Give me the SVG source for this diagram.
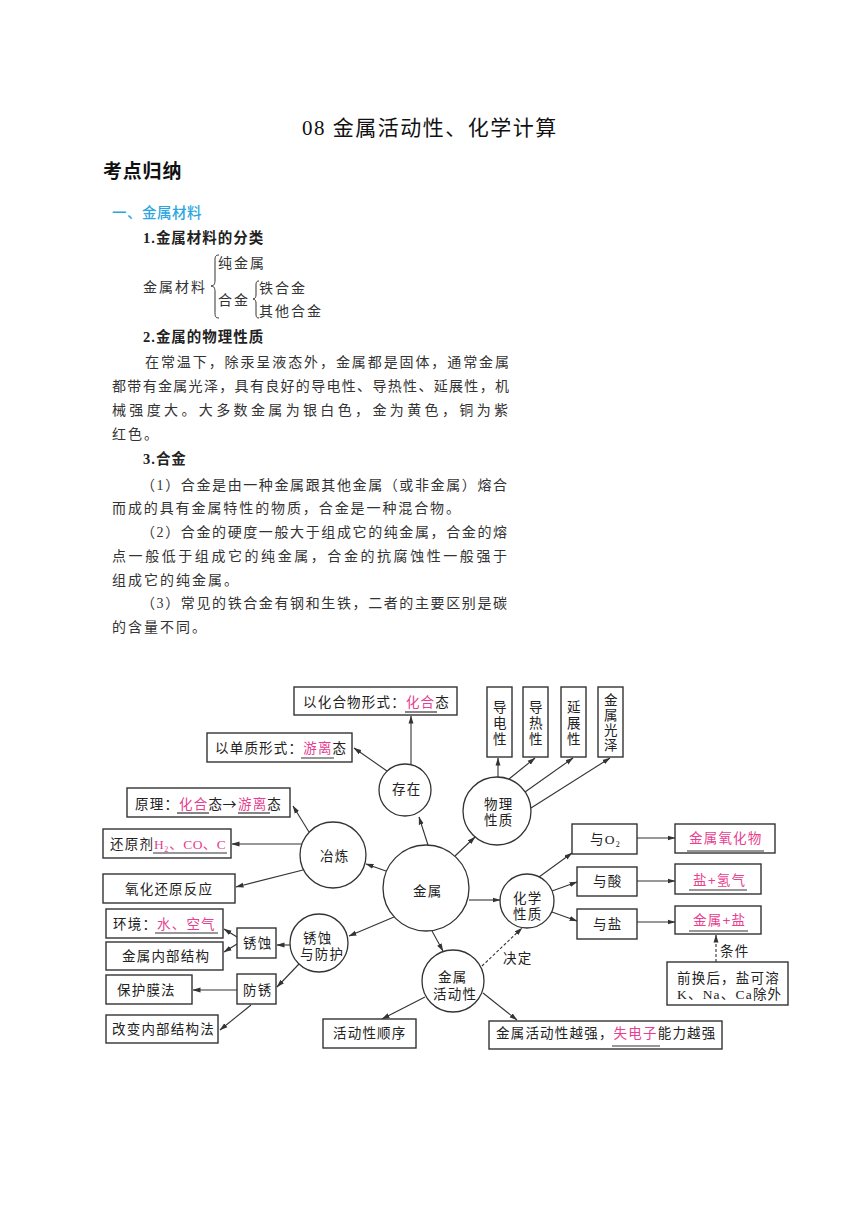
<svg xmlns="http://www.w3.org/2000/svg" width="860" height="1216" viewBox="0 0 860 1216">
<style>
.bg{fill:#fff}
.title{font-family:"Liberation Serif","Noto Sans CJK SC",serif;font-size:21px;letter-spacing:1.5px;fill:#111}
.h1{font-family:"Liberation Sans","Noto Sans CJK SC",sans-serif;font-size:19px;font-weight:bold;letter-spacing:0.8px;fill:#111}
.blue{font-family:"Liberation Sans","Noto Sans CJK SC",sans-serif;font-size:14.5px;font-weight:500;letter-spacing:0.5px;fill:#2ca6e0}
.h2{font-family:"Liberation Serif","Noto Sans CJK SC",serif;font-size:14.5px;font-weight:bold;letter-spacing:1px;fill:#222}
.body{font-family:"Liberation Serif","Noto Sans CJK SC",serif;font-size:14px;letter-spacing:2px;fill:#333}
.brace{fill:none;stroke:#333;stroke-width:1}
.box{fill:#fff;stroke:#333;stroke-width:1.4}
.circ{fill:#fff;stroke:#333;stroke-width:1.3}
.t{font-family:"Liberation Serif","Noto Sans CJK SC",serif;font-size:13.5px;letter-spacing:1.2px;fill:#222}
.pk{fill:#e8408f;font-family:"Liberation Sans","Noto Sans CJK SC",sans-serif}
.pks{fill:#e8408f}
.ul{stroke:#333;stroke-width:1.2}
.c{stroke:#333;stroke-width:1.1;fill:none;marker-end:url(#ah)}
.d{stroke-dasharray:3 2}
</style>
<defs>
<marker id="ah" viewBox="0 0 8 6" refX="7.5" refY="3" markerWidth="8" markerHeight="6" markerUnits="userSpaceOnUse" orient="auto"><path d="M0,0.5 L8,3 L0,5.5 z" fill="#333"/></marker>
</defs>
<rect class="bg" x="0" y="0" width="860" height="1216"/>

<g id="header">
<text class="title" x="302" y="135">08 金属活动性、化学计算</text>
<text class="h1" x="103" y="178">考点归纳</text>
<text class="blue" x="112" y="218">一、金属材料</text>
</g>

<g id="text-body">
<text class="h2" x="143" y="243">1.金属材料的分类</text>
<text class="body" x="218" y="268">纯金属</text>
<text class="body" x="143" y="292">金属材料</text>
<text class="body" x="218" y="305">合金</text>
<text class="body" x="259" y="293">铁合金</text>
<text class="body" x="259" y="316">其他合金</text>
<path class="brace" d="M219,255 C215,255 215,257 215,262 L215,280 C215,284 214,286 211,286 C214,286 215,288 215,292 L215,311 C215,316 215,318 219,318"/>
<path class="brace" d="M259,281 C256,281 256,283 256,286 L256,295 C256,297 255,299 253,299 C255,299 256,301 256,303 L256,313 C256,316 256,318 259,318"/>

<text class="h2" x="143" y="342">2.金属的物理性质</text>
<text class="body" x="145" y="367" textLength="366" lengthAdjust="spacing">在常温下，除汞呈液态外，金属都是固体，通常金属</text>
<text class="body" x="112" y="391" textLength="399" lengthAdjust="spacing">都带有金属光泽，具有良好的导电性、导热性、延展性，机</text>
<text class="body" x="112" y="415" textLength="398" lengthAdjust="spacing">械强度大。大多数金属为银白色，金为黄色，铜为紫</text>
<text class="body" x="112" y="439">红色。</text>
<text class="h2" x="143" y="464">3.合金</text>
<text class="body" x="141" y="490" textLength="368" lengthAdjust="spacing">（1）合金是由一种金属跟其他金属（或非金属）熔合</text>
<text class="body" x="112" y="513" textLength="350" lengthAdjust="spacing">而成的具有金属特性的物质，合金是一种混合物。</text>
<text class="body" x="141" y="537" textLength="368" lengthAdjust="spacing">（2）合金的硬度一般大于组成它的纯金属，合金的熔</text>
<text class="body" x="112" y="561" textLength="397" lengthAdjust="spacing">点一般低于组成它的纯金属，合金的抗腐蚀性一般强于</text>
<text class="body" x="112" y="585">组成它的纯金属。</text>
<text class="body" x="141" y="608" textLength="368" lengthAdjust="spacing">（3）常见的铁合金有钢和生铁，二者的主要区别是碳</text>
<text class="body" x="112" y="632">的含量不同。</text>
</g>

<g id="connectors">
<line class="c" x1="411" y1="765" x2="411" y2="716"/>
<line class="c" x1="387" y1="771" x2="354" y2="748"/>
<line class="c" x1="428" y1="845" x2="419" y2="817"/>
<line class="c" x1="455" y1="856" x2="475" y2="837"/>
<line class="c" x1="498" y1="777" x2="498" y2="758"/>
<line class="c" x1="509" y1="779" x2="535" y2="758"/>
<line class="c" x1="525" y1="792" x2="573" y2="758"/>
<line class="c" x1="531" y1="808" x2="610" y2="758"/>
<line class="c" x1="386" y1="871" x2="366" y2="864"/>
<line class="c" x1="469" y1="900" x2="500" y2="900"/>
<line class="c" x1="394" y1="917" x2="349" y2="936"/>
<line class="c" x1="432" y1="931" x2="443" y2="951"/>
<line class="c" x1="539" y1="877" x2="572" y2="853"/>
<line class="c" x1="552" y1="891" x2="577" y2="882"/>
<line class="c" x1="552" y1="912" x2="577" y2="921"/>
<line class="c" x1="637" y1="838" x2="675" y2="838"/>
<line class="c" x1="637" y1="881" x2="675" y2="881"/>
<line class="c" x1="637" y1="922" x2="675" y2="922"/>
<line class="c d" x1="716" y1="962" x2="716" y2="935"/>
<line class="c d" x1="482" y1="966" x2="522" y2="928"/>
<line class="c" x1="425" y1="997" x2="382" y2="1019"/>
<line class="c" x1="483" y1="993" x2="517" y2="1020"/>
<line class="c" x1="309" y1="832" x2="293" y2="806"/>
<line class="c" x1="302" y1="844" x2="232" y2="844"/>
<line class="c" x1="303" y1="870" x2="236" y2="887"/>
<line class="c" x1="290" y1="945" x2="277" y2="945"/>
<line class="c" x1="299" y1="964" x2="277" y2="987"/>
<line class="c" x1="237" y1="937" x2="224" y2="929"/>
<line class="c" x1="237" y1="944" x2="224" y2="952"/>
<line class="c" x1="237" y1="990" x2="193" y2="990"/>
<line class="c" x1="251" y1="1005" x2="220" y2="1030"/>
<text class="t" x="503" y="963">决定</text>
<text class="t" x="720" y="956">条件</text>
</g>

<g id="n-huahetai">
<rect class="box" x="294" y="687" width="163" height="28"/>
<text class="t" y="707"><tspan x="303">以化合物形式：</tspan><tspan class="pk" x="405.9">化合</tspan><tspan x="435.3">态</tspan></text>
<line class="ul" x1="405" y1="712" x2="437" y2="712"/>
</g>
<g id="n-youlitai">
<rect class="box" x="207" y="733" width="145" height="29"/>
<text class="t" y="753"><tspan x="215">以单质形式：</tspan><tspan class="pk" x="303.2">游离</tspan><tspan x="332.6">态</tspan></text>
<line class="ul" x1="301" y1="758" x2="334" y2="758"/>
</g>
<g id="n-yuanli">
<rect class="box" x="127" y="788" width="163" height="29"/>
<text class="t" y="809"><tspan x="135">原理：</tspan><tspan class="pk" x="179.1">化合</tspan><tspan x="208.5">态</tspan><tspan x="222.5" font-family="Noto Sans CJK SC" font-size="14">→</tspan><tspan class="pk" x="238">游离</tspan><tspan x="267.3">态</tspan></text>
<line class="ul" x1="177" y1="813" x2="209" y2="813"/>
<line class="ul" x1="238" y1="813" x2="270" y2="813"/>
</g>
<g id="n-huanyuanji">
<rect class="box" x="103" y="829" width="128" height="29"/>
<text class="t" y="849"><tspan x="110">还原剂</tspan><tspan class="pks" x="154" letter-spacing="0.4">H</tspan><tspan class="pks" font-size="8" dy="3">2</tspan><tspan class="pks" dy="-3" letter-spacing="0.4">、CO、C</tspan></text>
<line class="ul" x1="153" y1="853" x2="227" y2="853"/>
</g>
<g id="n-yanghua">
<rect class="box" x="103" y="874" width="132" height="29"/>
<text class="t" x="125" y="894">氧化还原反应</text>
</g>
<g id="n-huanjing">
<rect class="box" x="106" y="909" width="117" height="29"/>
<text class="t" y="929"><tspan x="113">环境：</tspan><tspan class="pk" x="157">水、空气</tspan></text>
<line class="ul" x1="155" y1="933" x2="218" y2="933"/>
</g>
<g id="n-neibu">
<rect class="box" x="106" y="942" width="117" height="28"/>
<text class="t" x="122" y="961">金属内部结构</text>
</g>
<g id="n-xiushi">
<rect class="box" x="237" y="928" width="39" height="30"/>
<text class="t" x="243" y="948">锈蚀</text>
</g>
<g id="n-fangxiu">
<rect class="box" x="237" y="974" width="39" height="30"/>
<text class="t" x="243" y="995">防锈</text>
</g>
<g id="n-baohumo">
<rect class="box" x="106" y="975" width="86" height="29"/>
<text class="t" x="117" y="995">保护膜法</text>
</g>
<g id="n-gaibian">
<rect class="box" x="106" y="1015" width="112" height="28"/>
<text class="t" x="112" y="1034">改变内部结构法</text>
</g>

<g id="n-daodian">
<rect class="box" x="487" y="687" width="25" height="70"/>
<text class="t" x="493" y="712">导</text><text class="t" x="493" y="728">电</text><text class="t" x="493" y="744">性</text>
</g>
<g id="n-daore">
<rect class="box" x="523" y="687" width="25" height="70"/>
<text class="t" x="529" y="712">导</text><text class="t" x="529" y="728">热</text><text class="t" x="529" y="744">性</text>
</g>
<g id="n-yanzhan">
<rect class="box" x="561" y="687" width="25" height="70"/>
<text class="t" x="567" y="712">延</text><text class="t" x="567" y="728">展</text><text class="t" x="567" y="744">性</text>
</g>
<g id="n-guangze">
<rect class="box" x="598" y="687" width="25" height="70"/>
<text class="t" x="604" y="705">金</text><text class="t" x="604" y="720">属</text><text class="t" x="604" y="735">光</text><text class="t" x="604" y="750">泽</text>
</g>

<g id="n-cunzai">
<circle class="circ" cx="405" cy="790" r="26"/>
<text class="t" x="392" y="794">存在</text>
</g>
<g id="n-wuli">
<circle class="circ" cx="497" cy="811" r="34"/>
<text class="t" x="484" y="809">物理</text>
<text class="t" x="484" y="825">性质</text>
</g>
<g id="n-yelian">
<circle class="circ" cx="333" cy="855" r="33"/>
<text class="t" x="320" y="861">冶炼</text>
</g>
<g id="n-jinshu">
<circle class="circ" cx="426" cy="888" r="43"/>
<text class="t" x="413" y="896">金属</text>
</g>
<g id="n-huaxue">
<circle class="circ" cx="527" cy="901" r="27"/>
<text class="t" x="513" y="903">化学</text>
<text class="t" x="513" y="919">性质</text>
</g>
<g id="n-xiushifanghu">
<circle class="circ" cx="319" cy="943" r="29"/>
<text class="t" x="303" y="943">锈蚀</text>
<text class="t" x="300" y="959">与防护</text>
</g>
<g id="n-huodongxing">
<circle class="circ" cx="453" cy="981" r="31"/>
<text class="t" x="438" y="982">金属</text>
<text class="t" x="433" y="999">活动性</text>
</g>

<g id="n-yuo2">
<rect class="box" x="572" y="824" width="65" height="30"/>
<text class="t" y="844"><tspan x="590">与O</tspan><tspan font-size="8" dy="3">2</tspan></text>
</g>
<g id="n-yusuan">
<rect class="box" x="577" y="867" width="60" height="29"/>
<text class="t" x="593" y="886">与酸</text>
</g>
<g id="n-yuyan">
<rect class="box" x="577" y="909" width="60" height="30"/>
<text class="t" x="593" y="929">与盐</text>
</g>
<g id="n-yanghuawu">
<rect class="box" x="675" y="824" width="100" height="29"/>
<text class="t pk" x="689" y="843">金属氧化物</text>
<line class="ul" x1="687" y1="851" x2="764" y2="851"/>
</g>
<g id="n-yanqingqi">
<rect class="box" x="675" y="864" width="86" height="30"/>
<text class="t pk" x="693" y="885">盐+氢气</text>
<line class="ul" x1="689" y1="890" x2="747" y2="890"/>
</g>
<g id="n-jinshuyan">
<rect class="box" x="675" y="906" width="86" height="28"/>
<text class="t pk" x="693" y="925">金属+盐</text>
<line class="ul" x1="689" y1="931" x2="748" y2="931"/>
</g>
<g id="n-tiaojian">
<rect class="box" x="667" y="962" width="121" height="43"/>
<text class="t" x="677" y="983">前换后，盐可溶</text>
<text class="t" x="677" y="999">K、Na、Ca除外</text>
</g>
<g id="n-shunxu">
<rect class="box" x="323" y="1019" width="93" height="29"/>
<text class="t" x="333" y="1038">活动性顺序</text>
</g>
<g id="n-yueqiang">
<rect class="box" x="489" y="1021" width="233" height="28"/>
<text class="t" y="1038"><tspan x="496">金属活动性越强，</tspan><tspan class="pk" x="613.6">失电子</tspan><tspan x="657.7">能力越强</tspan></text>
<line class="ul" x1="612" y1="1046" x2="660" y2="1046"/>
</g>
</svg>
